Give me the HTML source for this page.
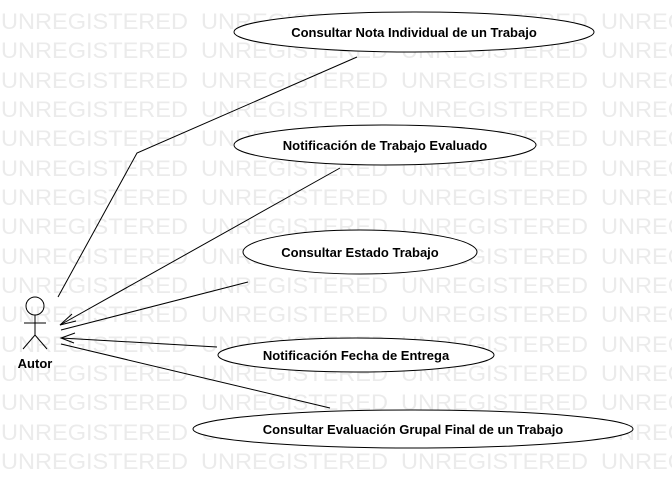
<!DOCTYPE html>
<html><head><meta charset="utf-8"><style>
html,body{margin:0;padding:0;background:#fff;width:672px;height:489px;overflow:hidden}
svg{display:block}
.wm{font-family:"Liberation Sans",sans-serif;font-size:22px;fill:#ebebeb}
.t{font-family:"Liberation Sans",sans-serif;font-size:13px;font-weight:bold;fill:#000;text-anchor:middle}
</style></head><body>
<svg width="672" height="489" xmlns="http://www.w3.org/2000/svg">
<defs>
<g id="row">
<text x="1" y="0" textLength="187" lengthAdjust="spacingAndGlyphs">UNREGISTERED</text>
<text x="201" y="0" textLength="187" lengthAdjust="spacingAndGlyphs">UNREGISTERED</text>
<text x="401" y="0" textLength="187" lengthAdjust="spacingAndGlyphs">UNREGISTERED</text>
<text x="601" y="0" textLength="187" lengthAdjust="spacingAndGlyphs">UNREGISTERED</text>
</g>
</defs>
<g class="wm">
<use href="#row" y="29"/><use href="#row" y="58"/><use href="#row" y="88"/><use href="#row" y="117"/>
<use href="#row" y="146"/><use href="#row" y="176"/><use href="#row" y="205"/><use href="#row" y="234"/>
<use href="#row" y="264"/><use href="#row" y="293"/><use href="#row" y="322"/><use href="#row" y="352"/>
<use href="#row" y="381"/><use href="#row" y="410"/><use href="#row" y="440"/><use href="#row" y="469"/>
</g>
<g fill="none" stroke="#000" stroke-width="1">
<polyline points="357,57 137,153 58,297"/>
<line x1="340" y1="168" x2="60" y2="325"/>
<polyline points="72,314 60,325 76,321"/>
<line x1="248" y1="282" x2="61" y2="330"/>
<line x1="217" y1="347" x2="61" y2="338"/>
<polyline points="75,333 61,338 74,343"/>
<line x1="330" y1="408" x2="61" y2="344"/>
<circle cx="35" cy="306" r="9"/>
<line x1="35" y1="315" x2="35" y2="335"/>
<line x1="24" y1="323" x2="46" y2="323"/>
<polyline points="23,349 35,335 47,349"/>
</g>
<g fill="#fff" stroke="#000" stroke-width="1">
<ellipse cx="414" cy="32" rx="180" ry="20"/>
<ellipse cx="385" cy="145" rx="151" ry="20"/>
<ellipse cx="360" cy="252" rx="117" ry="22"/>
<ellipse cx="356" cy="355" rx="138" ry="17"/>
<ellipse cx="413" cy="429" rx="220" ry="19"/>
</g>
<text class="t" x="414" y="37">Consultar Nota Individual de un Trabajo</text>
<text class="t" x="385" y="150">Notificación de Trabajo Evaluado</text>
<text class="t" x="360" y="257">Consultar Estado Trabajo</text>
<text class="t" x="356" y="360">Notificación Fecha de Entrega</text>
<text class="t" x="413" y="434">Consultar Evaluación Grupal Final de un Trabajo</text>
<text class="t" x="35" y="368">Autor</text>
</svg>
</body></html>
